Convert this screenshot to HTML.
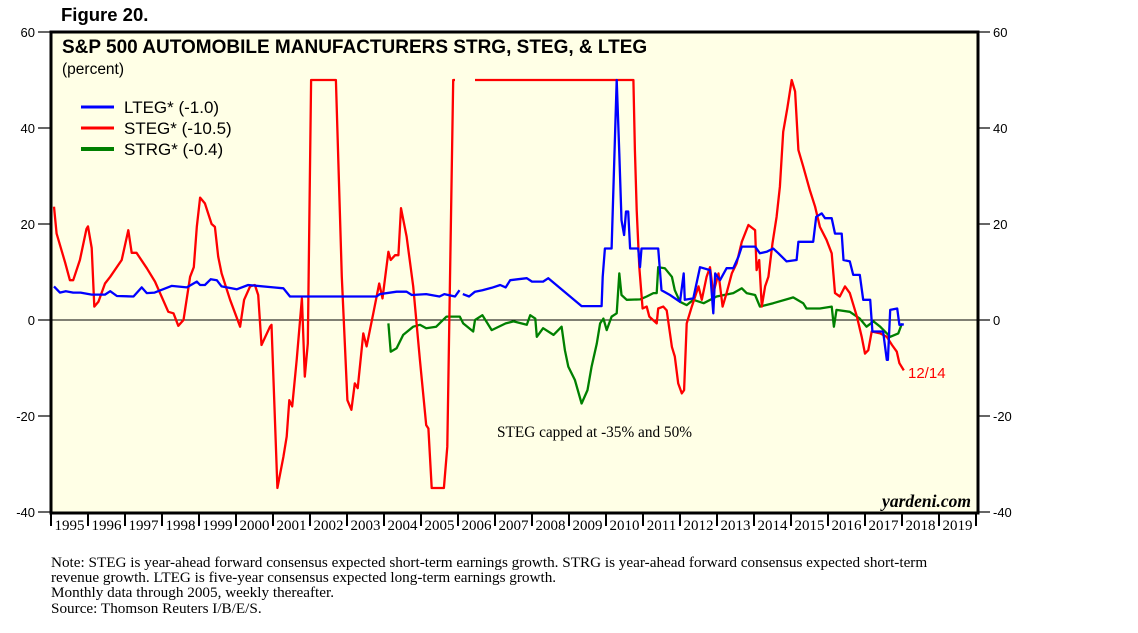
<!DOCTYPE html>
<html><head><meta charset="utf-8"><style>
body{margin:0;background:#fff;width:1138px;height:633px;overflow:hidden}
svg{display:block}
</style></head><body>
<svg width="1138" height="633" viewBox="0 0 1138 633" xmlns="http://www.w3.org/2000/svg">
<text x="61" y="21" font-family="Liberation Sans, sans-serif" font-weight="bold" font-size="18.5">Figure 20.</text>
<rect x="51" y="32" width="927" height="481" fill="#FFFFE6" stroke="#000" stroke-width="3"/>
<g id="axes"></g>
<g id="series"></g>
<text x="62" y="53" font-family="Liberation Sans, sans-serif" font-weight="bold" font-size="19">S&amp;P 500 AUTOMOBILE MANUFACTURERS STRG, STEG, &amp; LTEG</text>
<text x="62" y="74" font-family="Liberation Sans, sans-serif" font-size="15.5">(percent)</text>
<g font-family="Liberation Sans, sans-serif" font-size="17">
<line x1="81" y1="107" x2="114" y2="107" stroke="#0000ff" stroke-width="3"/>
<text x="124" y="113">LTEG* (-1.0)</text>
<line x1="81" y1="128" x2="114" y2="128" stroke="#ff0000" stroke-width="3"/>
<text x="124" y="134">STEG* (-10.5)</text>
<line x1="81" y1="149" x2="114" y2="149" stroke="#008000" stroke-width="4"/>
<text x="124" y="155">STRG* (-0.4)</text>
</g>
<text x="497" y="437" font-family="Liberation Serif, serif" font-size="15.3">STEG capped at -35% and 50%</text>
<text x="971" y="507" text-anchor="end" font-family="Liberation Serif, serif" font-style="italic" font-weight="bold" font-size="17.5">yardeni.com</text>
<text x="908" y="378" font-family="Liberation Sans, sans-serif" font-size="15" fill="#ff0000">12/14</text>
<g font-family="Liberation Serif, serif" font-size="15.2">
<text x="51" y="567">Note: STEG is year-ahead forward consensus expected short-term earnings growth. STRG is year-ahead forward consensus expected short-term</text>
<text x="51" y="582">revenue growth. LTEG is five-year consensus expected long-term earnings growth.</text>
<text x="51" y="597">Monthly data through 2005, weekly thereafter.</text>
<text x="51" y="613">Source: Thomson Reuters I/B/E/S.</text>
</g>
</svg>
<script>
const yTicks=[60,40,20,0,-20,-40];
const years=[1995,1996,1997,1998,1999,2000,2001,2002,2003,2004,2005,2006,2007,2008,2009,2010,2011,2012,2013,2014,2015,2016,2017,2018,2019];
const stegSeg1=[[1995.08,23.6],[1995.15,18],[1995.38,12],[1995.51,8.3],[1995.6,8.3],[1995.78,12.5],[1995.96,19],[1996.0,19.5],[1996.1,15],[1996.17,2.8],[1996.28,3.8],[1996.46,7.6],[1996.6,9],[1996.91,12.5],[1997.09,18.7],[1997.18,14],[1997.31,14],[1997.59,10.8],[1997.81,8],[1998.17,1.7],[1998.31,1.4],[1998.44,-1.2],[1998.58,0],[1998.76,9],[1998.86,11],[1998.94,19.4],[1999.03,25.5],[1999.16,24.3],[1999.34,20],[1999.43,19.4],[1999.52,13.2],[1999.61,9.7],[1999.84,4.2],[2000.11,-1.4],[2000.22,4.2],[2000.38,7],[2000.51,7.3],[2000.6,5.2],[2000.69,-5.2],[2000.92,-1.4],[2000.96,-1],[2001.12,-35],[2001.28,-28.5],[2001.37,-24.3],[2001.44,-16.7],[2001.52,-18],[2001.64,-8.3],[2001.78,4.5],[2001.86,-11.8],[2001.94,-4.9],[2002.03,50],[2002.7,50],[2002.86,9],[2003.01,-16.7],[2003.12,-18.7],[2003.21,-13.2],[2003.29,-14.2],[2003.44,-2.8],[2003.53,-5.5],[2003.71,1.4],[2003.87,7.6],[2003.96,4.5],[2004.12,14.2],[2004.18,12.5],[2004.3,13.5],[2004.39,13.5],[2004.46,23.3],[2004.61,17.4],[2004.79,7],[2004.97,-8.3],[2005.14,-21.9],[2005.2,-22.6],[2005.29,-35],[2005.62,-35],[2005.71,-26.4],[2005.87,50],[2005.92,50]];
const stegSeg2=[[2006.46,50],[2010.74,50],[2010.78,35.4],[2010.83,22.9],[2010.9,11],[2010.99,2.4],[2011.1,2.8],[2011.17,0.7],[2011.37,-0.7],[2011.41,2.4],[2011.55,2.8],[2011.64,2],[2011.78,-5.6],[2011.86,-7.6],[2011.95,-13.2],[2012.05,-15.3],[2012.11,-14.6],[2012.18,-0.7],[2012.32,2.8],[2012.5,7],[2012.59,4.2],[2012.72,9],[2012.81,11],[2012.9,5.6],[2013.04,9.7],[2013.15,2.8],[2013.26,5.6],[2013.4,9.7],[2013.53,11.8],[2013.67,16.3],[2013.85,19.8],[2014.03,18.7],[2014.07,10.4],[2014.14,12.5],[2014.21,2.8],[2014.3,7],[2014.39,9],[2014.5,16],[2014.61,21.5],[2014.7,27.8],[2014.79,39.2],[2014.9,44.1],[2015.02,50],[2015.11,47.6],[2015.2,35.4],[2015.33,32],[2015.51,27],[2015.65,23.6],[2015.78,19.4],[2015.96,16.7],[2016.1,13.9],[2016.19,5.6],[2016.32,4.9],[2016.46,7],[2016.59,5.6],[2016.78,0.7],[2016.91,-3.5],[2017.0,-7],[2017.09,-6.3],[2017.18,-2.4],[2017.41,-2.8],[2017.59,-3.5],[2017.73,-5.2],[2017.86,-6.6],[2017.93,-9],[2018.05,-10.5]];
const ltegSeg1=[[1995.08,7],[1995.24,5.7],[1995.4,6],[1995.6,5.7],[1995.8,5.7],[1996.1,5.3],[1996.46,5.3],[1996.6,6],[1996.78,5],[1997.23,4.9],[1997.45,6.8],[1997.59,5.6],[1997.8,5.7],[1998.26,7.1],[1998.67,6.8],[1998.94,8],[1999.03,7.3],[1999.16,7.3],[1999.32,8.5],[1999.48,8.3],[1999.61,7],[2000.02,6.4],[2000.33,7.3],[2001.01,6.8],[2001.28,6.6],[2001.46,4.9],[2003.8,4.9],[2003.89,5.4],[2004.34,5.9],[2004.61,5.9],[2004.75,5.2],[2005.14,5.4],[2005.5,4.9],[2005.63,5.4],[2005.92,4.9],[2006.04,6.2]];
const ltegSeg2=[[2006.13,5.4],[2006.3,4.9],[2006.46,5.9],[2006.66,6.2],[2006.91,6.7],[2007.14,7.3],[2007.29,6.8],[2007.41,8.3],[2007.63,8.5],[2007.86,8.7],[2008.0,8],[2008.3,8],[2008.44,8.7],[2009.34,2.9],[2009.88,2.9],[2009.91,9],[2009.97,14.9],[2010.15,14.9],[2010.29,50],[2010.36,34.7],[2010.42,20.8],[2010.49,17.7],[2010.54,22.6],[2010.6,22.6],[2010.65,14.9],[2010.87,14.9],[2010.92,11],[2010.96,14.9],[2011.41,14.9],[2011.5,6.2],[2011.73,5.2],[2012.0,3.8],[2012.1,9.7],[2012.13,4.2],[2012.36,4.5],[2012.54,11],[2012.81,10.4],[2012.9,1.4],[2012.95,9.7],[2013.08,8.3],[2013.26,10.8],[2013.44,10.8],[2013.58,13.2],[2013.67,15.3],[2014.03,15.3],[2014.16,13.9],[2014.34,14.2],[2014.52,14.9],[2014.66,13.9],[2014.88,12.2],[2015.15,12.5],[2015.2,16.3],[2015.6,16.3],[2015.68,21.5],[2015.83,22.2],[2015.92,21.2],[2016.1,21.2],[2016.19,18],[2016.37,18],[2016.42,12.5],[2016.59,12.2],[2016.68,9.4],[2016.86,9.4],[2016.95,4.2],[2017.14,4.2],[2017.2,-2.4],[2017.49,-2.4],[2017.59,-8.3],[2017.62,-8.3],[2017.68,2.1],[2017.87,2.4],[2017.93,-1],[2018.05,-0.9]];
const strg=[[2004.12,-0.7],[2004.18,-6.6],[2004.34,-5.9],[2004.52,-3.1],[2004.79,-1.4],[2004.97,-1],[2005.14,-1.7],[2005.41,-1.4],[2005.69,0.7],[2006.05,0.7],[2006.14,-0.7],[2006.41,-2.4],[2006.46,0],[2006.66,1],[2006.91,-2.1],[2007.29,-0.7],[2007.5,-0.3],[2007.86,-1],[2007.95,1],[2008.09,0.3],[2008.13,-3.5],[2008.3,-1.7],[2008.58,-3.1],[2008.8,-1.4],[2008.89,-6.3],[2008.98,-9.7],[2009.16,-12.5],[2009.34,-17.4],[2009.5,-14.6],[2009.61,-9.7],[2009.75,-4.9],[2009.84,-0.7],[2009.93,0.3],[2010.02,-2.1],[2010.15,0.7],[2010.29,1.4],[2010.36,9.7],[2010.42,5.2],[2010.56,4.2],[2010.92,4.3],[2011.1,4.9],[2011.28,5.6],[2011.37,5.6],[2011.41,11],[2011.59,10.8],[2011.78,9],[2011.86,6.2],[2012.0,3.8],[2012.18,3.1],[2012.36,4.2],[2012.64,3.5],[2012.99,4.9],[2013.44,5.6],[2013.67,6.6],[2013.8,5.6],[2014.03,5.2],[2014.16,2.8],[2014.52,3.5],[2014.97,4.5],[2015.06,4.7],[2015.33,3.5],[2015.42,2.4],[2015.78,2.4],[2016.1,2.8],[2016.16,-1.4],[2016.23,2.1],[2016.59,1.7],[2016.86,0.3],[2017.04,-1.4],[2017.23,-0.3],[2017.41,-1.4],[2017.68,-3.5],[2017.9,-2.8],[2018.0,-0.7]];

const NS='http://www.w3.org/2000/svg';
function xs(t){return 51+(t-1995)*37;}
function ys(v){return 320-v*4.8;}
function mk(tag,attrs,parent){const e=document.createElementNS(NS,tag);for(const k in attrs)e.setAttribute(k,attrs[k]);parent.appendChild(e);return e;}
const ax=document.getElementById('axes');
yTicks.forEach(v=>{
  const y=ys(v);
  const l=mk('line',{x1:38,y1:y,x2:51,y2:y,stroke:'#000','stroke-width':1.2},ax);
  
  
  const r=mk('line',{x1:978,y1:y,x2:990,y2:y,stroke:'#000','stroke-width':1.2},ax);
  
  
  const t=mk('text',{x:35,y:y+5,'text-anchor':'end','font-family':'Liberation Sans, sans-serif','font-size':13},ax);
  t.textContent=v;
  
  
  const t2=mk('text',{x:993,y:y+5,'font-family':'Liberation Sans, sans-serif','font-size':13},ax);
  t2.textContent=v;
  
  
});
const zl=mk('line',{x1:51,y1:ys(0),x2:978,y2:ys(0),stroke:'#000','stroke-width':1},ax);


years.forEach(yr=>{
  const x=xs(yr);
  const l=mk('line',{x1:x,y1:513,x2:x,y2:526,stroke:'#000','stroke-width':2},ax);
  
  
  const t=mk('text',{x:x+18.5,y:530,'text-anchor':'middle','font-family':'Liberation Serif, serif','font-size':15},ax);
  t.textContent=yr;
  
  
});
const endT=mk('line',{x1:xs(2020),y1:513,x2:xs(2020),y2:526,stroke:'#000','stroke-width':2},ax);


const sg=document.getElementById('series');
function draw(arr,color,w,name){
  const p=mk('polyline',{points:arr.map(d=>xs(d[0]).toFixed(1)+','+ys(d[1]).toFixed(1)).join(' '),fill:'none',stroke:color,'stroke-width':w,'stroke-linejoin':'round'},sg);
  
  
}
draw(strg,'#008000',2.3,'strg-line');
draw(stegSeg1,'#ff0000',2.3,'steg-line');
draw(stegSeg2,'#ff0000',2.3,'steg-line');
draw(ltegSeg1,'#0000ff',2.3,'lteg-line');
draw(ltegSeg2,'#0000ff',2.3,'lteg-line');
</script>
</body></html>
